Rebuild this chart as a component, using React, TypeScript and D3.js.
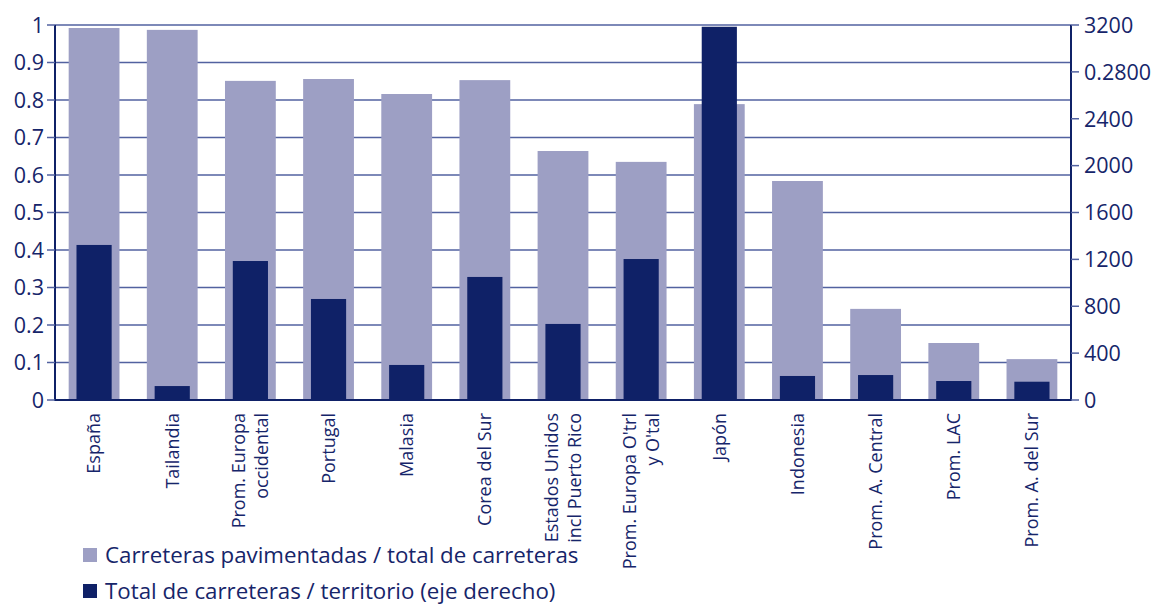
import { useMemo } from "react"
import * as d3 from "d3"

const categories = [
  "España",
  "Tailandia",
  "Prom. Europa\noccidental",
  "Portugal",
  "Malasia",
  "Corea del Sur",
  "Estados Unidos\nincl Puerto Rico",
  "Prom. Europa O'trl\ny O'tal",
  "Japón",
  "Indonesia",
  "Prom. A. Central",
  "Prom. LAC",
  "Prom. A. del Sur",
]

// Carreteras pavimentadas / total de carreteras (eje izquierdo)
const pavedShare = [0.992, 0.987, 0.851, 0.856, 0.816, 0.853, 0.664, 0.635, 0.789, 0.584, 0.243, 0.152, 0.109]
// Total de carreteras / territorio (eje derecho)
const roadDensity = [1323, 119, 1186, 862, 299, 1050, 649, 1203, 3185, 205, 213, 162, 156]

const leftTicks = [0, 0.1, 0.2, 0.3, 0.4, 0.5, 0.6, 0.7, 0.8, 0.9, 1]
const leftTickLabels = ["0", "0.1", "0.2", "0.3", "0.4", "0.5", "0.6", "0.7", "0.8", "0.9", "1"]
const rightTicks = [0, 400, 800, 1200, 1600, 2000, 2400, 2800, 3200]
const rightTickLabels = ["0", "400", "800", "1200", "1600", "2000", "2400", "0.2800", "3200"]

const legendLabels = ["Carreteras pavimentadas / total de carreteras", "Total de carreteras / territorio (eje derecho)"]

const W = 1157
const H = 606
const LIGHT = "#9d9fc4"
const DARK = "#0f2167"
const INK = "#16256a"
const GRID = "#5262a0"
const FONT = "'Open Sans', sans-serif"

export default function App() {
  const left = 55
  const right = 1071
  const top = 25
  const bottom = 400

  const x = useMemo(
    () => d3.scaleBand<number>().domain(d3.range(categories.length)).range([left, right]).padding(0),
    []
  )
  const yL = d3.scaleLinear().domain([0, 1]).range([bottom, top])
  const yR = d3.scaleLinear().domain([0, 3200]).range([bottom, top])

  const step = x.bandwidth()
  const lightW = step * 0.65
  const darkW = step * 0.45

  return (
    <svg
      width={W}
      height={H}
      viewBox={`0 0 ${W} ${H}`}
      style={{ position: "absolute", left: 0, top: 0, background: "#fff" }}
      fontFamily={FONT}
    >
      {/* gridlines */}
      {leftTicks.slice(1).map((t) => (
        <line key={"g" + t} x1={left} x2={right} y1={yL(t)} y2={yL(t)} stroke={GRID} strokeWidth={1.5} />
      ))}

      {/* light bars */}
      {pavedShare.map((v, i) => {
        const cx = (x(i) as number) + step / 2
        return <rect key={"l" + i} x={cx - lightW / 2} y={yL(v)} width={lightW} height={bottom - yL(v)} fill={LIGHT} />
      })}

      {/* dark bars */}
      {roadDensity.map((v, i) => {
        const cx = (x(i) as number) + step / 2
        return <rect key={"d" + i} x={cx - darkW / 2} y={yR(v)} width={darkW} height={bottom - yR(v)} fill={DARK} />
      })}

      {/* axes */}
      <line x1={left} x2={left} y1={top} y2={bottom + 1} stroke={DARK} strokeWidth={2} />
      <line x1={right} x2={right} y1={top} y2={bottom + 1} stroke={DARK} strokeWidth={2} />
      <line x1={left - 1} x2={right + 1} y1={bottom} y2={bottom} stroke={DARK} strokeWidth={2} />

      {/* left ticks */}
      {leftTicks.map((t, i) => (
        <g key={"lt" + t} transform={`translate(0,${yL(t)})`}>
          <line x1={left - 8} x2={left} stroke={GRID} strokeWidth={1.5} />
          <text x={left - 11} dy="0.36em" textAnchor="end" fontSize={21.5} fill={INK}>
            {leftTickLabels[i]}
          </text>
        </g>
      ))}

      {/* right ticks */}
      {rightTicks.map((t, i) => (
        <g key={"rt" + t} transform={`translate(0,${yR(t)})`}>
          <line x1={right} x2={right + 8} stroke={GRID} strokeWidth={1.5} />
          <text x={right + 13} dy="0.36em" textAnchor="start" fontSize={21.5} fill={INK}>
            {rightTickLabels[i]}
          </text>
        </g>
      ))}

      {/* category labels */}
      {categories.map((c, i) => {
        const cx = (x(i) as number) + step / 2
        const lines = c.split("\n")
        const lh = 23
        return (
          <text
            key={"c" + i}
            transform={`translate(${cx},${bottom + 13}) rotate(-90)`}
            textAnchor="end"
            fontSize={18}
            fill={INK}
          >
            {lines.map((ln, k) => (
              <tspan key={k} x={0} y={(k - (lines.length - 1) / 2) * lh} dy="0.35em">
                {ln}
              </tspan>
            ))}
          </text>
        )
      })}

      {/* legend */}
      {legendLabels.map((lab, i) => {
        const y0 = 555 + i * 36
        return (
          <g key={"lg" + i}>
            <rect x={83} y={y0 - 7} width={14} height={14} fill={i === 0 ? LIGHT : DARK} />
            <text x={105} y={y0} dy="0.35em" fontSize={22.3} fill={INK}>
              {lab}
            </text>
          </g>
        )
      })}
    </svg>
  )
}
